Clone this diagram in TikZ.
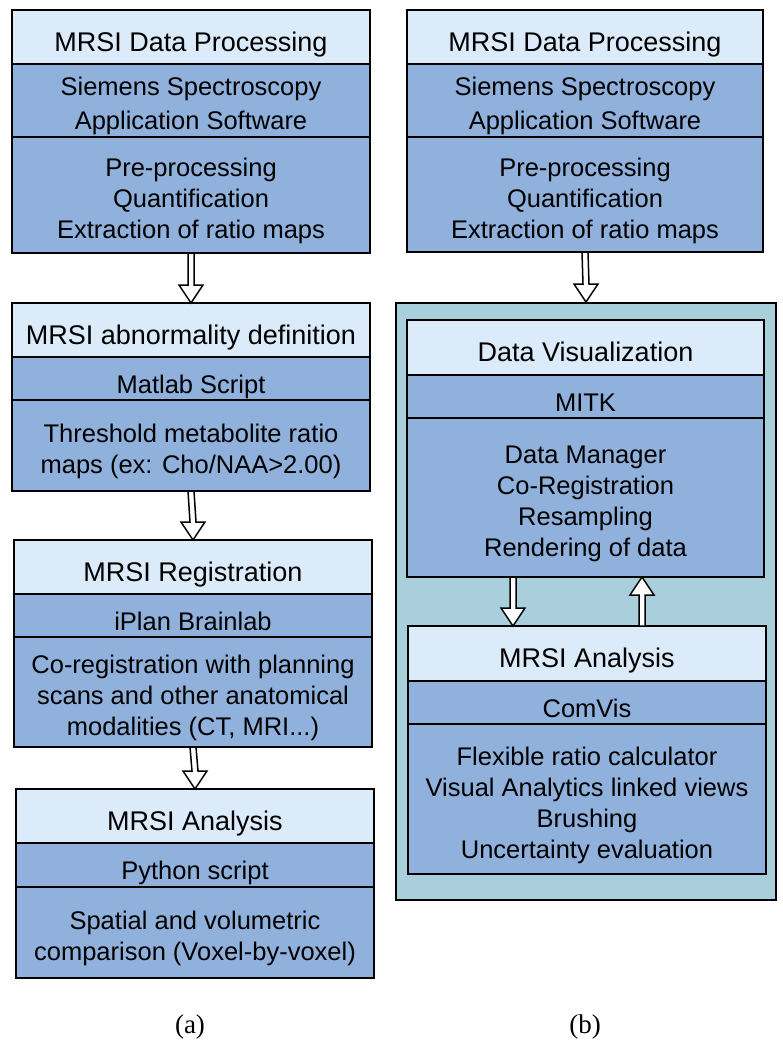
\documentclass[tikz,border=0pt]{standalone}
\usepackage{fontspec}
\setmainfont{Liberation Sans}
\newfontfamily\capfont{Liberation Serif}
\usetikzlibrary{calc}
\definecolor{lightsec}{RGB}{220,235,250}
\definecolor{midsec}{RGB}{143,177,220}
\definecolor{contfill}{RGB}{168,207,219}
\tikzset{
  sec/.style={draw=black, line width=0.75pt, inner sep=0pt, outer sep=0pt},
  titlesec/.style={sec, fill=lightsec},
  lowsec/.style={sec, fill=midsec},
  outerline/.style={draw=black, line width=1pt},
  txt/.style={align=center, inner sep=0pt, execute at begin node=\strut, execute at end node=\strut},
  titletxt/.style={txt, font=\fontsize{13.5}{16}\selectfont},
  subtxt/.style={txt, font=\fontsize{12.75}{17}\selectfont},
  bodytxt/.style={txt, font=\fontsize{12.75}{15.5}\selectfont},
  hollow/.style={draw=black, line width=0.75pt, fill=white, line join=miter},
  caption/.style={font=\capfont\fontsize{13.5}{16}\selectfont, inner sep=0pt}
}
% #1 name, #2 x1, #3 x2, #4 ytop, #5 ybottom, #6 style, #7 text style, #8 text
\newcommand\secnode[8]{%
  \node[#6, minimum width={(#3-#2)*0.5pt}, minimum height={(#5-#4)*0.5pt}, anchor=north west] (#1) at (#2,#4) {};
  \node[#7] (#1-t) at ([yshift=-4pt]#1.center) {#8};
}
% #1 start, #2 tip, #3 direction (1 down, -1 up)
\newcommand\harrow[3]{%
  \draw[hollow] ($(#1)+(-3,0)$) -- ($(#2)+(-3,{-18*(#3)})$) -- ($(#2)+(-12,{-18*(#3)})$) -- (#2)
    -- ($(#2)+(12,{-18*(#3)})$) -- ($(#2)+(3,{-18*(#3)})$) -- ($(#1)+(3,0)$) -- cycle;
}
\begin{document}
\begin{tikzpicture}[x=0.5pt, y=-0.5pt]
\useasboundingbox (0,0) rectangle (783,1057);
\fill[white] (0,0) rectangle (783,1057);

% ---------- (a) ----------
\secnode{a1t}{12}{370}{10}{64}{titlesec}{titletxt}{MRSI Data Processing}
\secnode{a1s}{12}{370}{64}{137}{lowsec}{subtxt}{Siemens Spectroscopy\\Application Software}
\secnode{a1b}{12}{370}{137}{253}{lowsec}{bodytxt}{Pre-processing\\Quantification\\Extraction of ratio maps}
\draw[outerline] (a1t.north west) rectangle (a1b.south east);

\secnode{a2t}{12}{370}{303}{357}{titlesec}{titletxt}{MRSI abnormality definition}
\secnode{a2s}{12}{370}{357}{400}{lowsec}{subtxt}{Matlab Script}
\secnode{a2b}{12}{370}{400}{491}{lowsec}{bodytxt}{Threshold metabolite ratio\\maps (ex: Cho/NAA>2.00)}
\draw[outerline] (a2t.north west) rectangle (a2b.south east);

\secnode{a3t}{14}{372}{540}{594}{titlesec}{titletxt}{MRSI Registration}
\secnode{a3s}{14}{372}{594}{637}{lowsec}{subtxt}{iPlan Brainlab}
\secnode{a3b}{14}{372}{637}{747}{lowsec}{bodytxt}{Co-registration with planning\\scans and other anatomical\\modalities (CT, MRI...)}
\draw[outerline] (a3t.north west) rectangle (a3b.south east);

\secnode{a4t}{16}{374}{789}{843}{titlesec}{titletxt}{MRSI Analysis}
\secnode{a4s}{16}{374}{843}{887}{lowsec}{subtxt}{Python script}
\secnode{a4b}{16}{374}{887}{978}{lowsec}{bodytxt}{Spatial and volumetric\\comparison (Voxel-by-voxel)}
\draw[outerline] (a4t.north west) rectangle (a4b.south east);

\harrow{a1b.south}{a2t.north}{1}
\harrow{a2b.south}{a3t.north}{1}
\harrow{a3b.south}{a4t.north}{1}

\node[caption] (capa) at (190,1027) {(a)};

% ---------- (b) ----------
\secnode{b1t}{407}{763}{10}{64}{titlesec}{titletxt}{MRSI Data Processing}
\secnode{b1s}{407}{763}{64}{137}{lowsec}{subtxt}{Siemens Spectroscopy\\Application Software}
\secnode{b1b}{407}{763}{137}{252}{lowsec}{bodytxt}{Pre-processing\\Quantification\\Extraction of ratio maps}
\draw[outerline] (b1t.north west) rectangle (b1b.south east);

\node[outerline, fill=contfill, minimum width={380*0.5pt}, minimum height={597*0.5pt}, anchor=north west, inner sep=0pt] (cont) at (395,302) {};

\secnode{dvt}{407}{764}{320}{375}{titlesec}{titletxt}{Data Visualization}
\secnode{dvs}{407}{764}{375}{418}{lowsec}{subtxt}{MITK}
\secnode{dvb}{407}{764}{418}{577}{lowsec}{bodytxt}{Data Manager\\Co-Registration\\Resampling\\Rendering of data}
\draw[outerline] (dvt.north west) rectangle (dvb.south east);

\secnode{ant}{408}{766}{626}{681}{titlesec}{titletxt}{MRSI Analysis}
\secnode{ans}{408}{766}{681}{724}{lowsec}{subtxt}{ComVis}
\secnode{anb}{408}{766}{724}{874}{lowsec}{bodytxt}{Flexible ratio calculator\\Visual Analytics linked views\\Brushing\\Uncertainty evaluation}
\draw[outerline] (ant.north west) rectangle (anb.south east);

\harrow{b1b.south}{cont.north}{1}

\coordinate (d1s) at ($(dvb.south west)+(106,0)$);
\coordinate (d1e) at (d1s |- ant.north);
\coordinate (u1s) at ($(ant.north west)+(234,0)$);
\coordinate (u1e) at (u1s |- dvb.south);
\harrow{d1s}{d1e}{1}
\harrow{u1s}{u1e}{-1}

\node[caption] (capb) at (585,1027) {(b)};
\end{tikzpicture}
\end{document}
